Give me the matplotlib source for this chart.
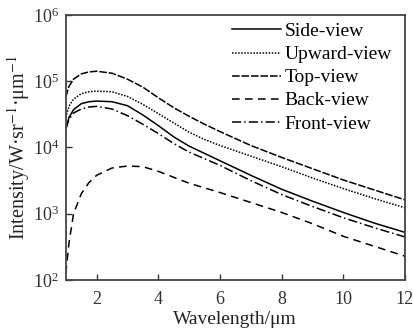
import matplotlib
matplotlib.use('Agg')
import matplotlib.pyplot as plt
import numpy as np

plt.rcParams['font.family'] = ['Liberation Serif', 'DejaVu Serif']
plt.rcParams['mathtext.fontset'] = 'stix'

# wavelength (um)
wl = [1.0, 1.1, 1.25, 1.5, 1.75, 2.0, 2.5, 3.0, 3.5, 4.0, 4.5, 5.0, 5.5, 6.0, 7.0, 8.0, 9.0, 10.0, 11.0, 12.0]

# log10 of intensity
side_log = [4.28, 4.45, 4.57, 4.66, 4.69, 4.70, 4.69, 4.63, 4.49, 4.33, 4.16, 4.02, 3.91, 3.80, 3.58, 3.37, 3.19, 3.02, 2.86, 2.72]
upward_log = [4.45, 4.62, 4.73, 4.81, 4.84, 4.85, 4.84, 4.77, 4.65, 4.51, 4.37, 4.23, 4.12, 4.03, 3.87, 3.71, 3.54, 3.38, 3.23, 3.09]
top_log = [4.76, 4.92, 5.03, 5.11, 5.14, 5.15, 5.12, 5.03, 4.91, 4.75, 4.60, 4.47, 4.35, 4.24, 4.03, 3.85, 3.68, 3.51, 3.36, 3.21]
back_log = [2.1, 2.55, 3.0, 3.3, 3.47, 3.58, 3.69, 3.72, 3.71, 3.64, 3.55, 3.46, 3.39, 3.32, 3.17, 3.02, 2.85, 2.66, 2.51, 2.36]
front_log = [4.28, 4.42, 4.52, 4.58, 4.61, 4.62, 4.58, 4.48, 4.35, 4.21, 4.06, 3.93, 3.83, 3.73, 3.50, 3.29, 3.11, 2.94, 2.79, 2.65]

names = ['Side-view', 'Upward-view', 'Top-view', 'Back-view', 'Front-view']
styles = ['-', (0, (1, 1)), (0, (5, 1.2)), (0, (5, 3.5)), (0, (6, 2, 1, 2))]
series = [side_log, upward_log, top_log, back_log, front_log]

fig = plt.figure(figsize=(4.14, 3.31), dpi=100)
ax = fig.add_axes([0.159, 0.154, 0.819, 0.801])

for name, ls, s in zip(names, styles, series):
    ax.plot(wl, 10 ** np.array(s), color='black', linestyle=ls, linewidth=1.1, label=name)

ax.set_yscale('log')
ax.set_xlim(1, 12)
ax.set_ylim(1e2, 1e6)
ax.set_xticks([2, 4, 6, 8, 10, 12])
ax.set_yticks([1e2, 1e3, 1e4, 1e5, 1e6])
ax.yaxis.set_minor_locator(matplotlib.ticker.NullLocator())
ax.tick_params(direction='in', length=4, width=1, labelsize=13, colors='#333333', pad=5)
ax.tick_params(axis='x', pad=8)
for sp in ax.spines.values():
    sp.set_linewidth(1.3)
    sp.set_color('#444444')

ax.set_xlabel('Wavelength/μm', fontsize=14, color='#222222', labelpad=2)
ax.set_ylabel('Intensity/W·sr$^{-1}$·μm$^{-1}$', fontsize=14.5, color='#222222')
ax.yaxis.set_label_coords(-0.10, 0.5)

ax.legend(loc='upper right', frameon=False, fontsize=14, handlelength=2.5,
          handletextpad=0.2, labelspacing=0.28, borderaxespad=0.0,
          bbox_to_anchor=(0.985, 1.0))

fig.savefig('out.png', dpi=100)
